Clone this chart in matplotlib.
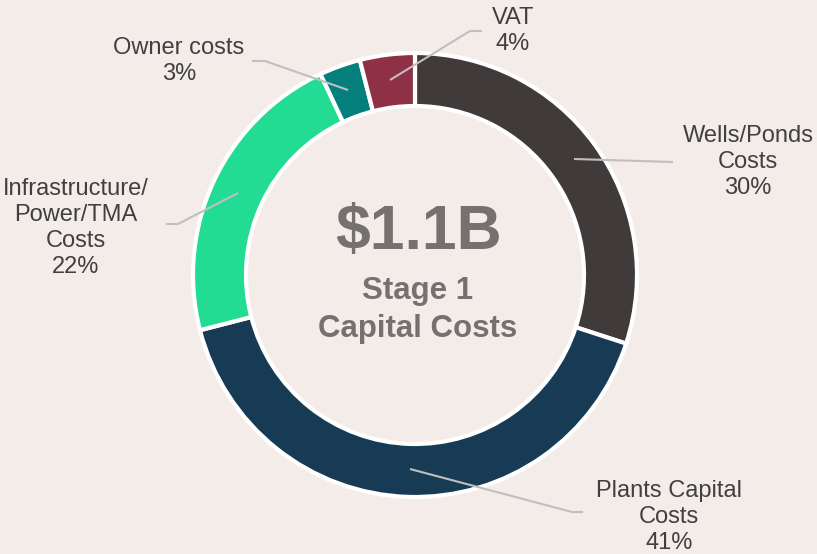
import matplotlib
matplotlib.use("Agg")
import matplotlib.pyplot as plt

categories = ["Wells/Ponds\nCosts", "Plants Capital\nCosts", "Infrastructure/\nPower/TMA\nCosts", "Owner costs", "VAT"]
values = [30, 41, 22, 3, 4]
colors = ["#403A3A", "#173A55", "#22DC94", "#057F7C", "#8E3046"]

# label positions (text center, pixel coords from top-left) and leader lines
label_pos = [(748, 162), (669, 517), (76, 228), (179, 61), (513, 31)]
leader = [
    [(574, 159), (673, 162)],
    [(410, 469), (572, 512), (583, 512)],
    [(238, 193), (178, 224), (166, 224)],
    [(348, 90), (265, 61), (252, 61)],
    [(390, 80), (470, 31), (482, 31)],
]

W, H = 817, 554
bg = "#F3ECE9"
fig = plt.figure(figsize=(W / 100, H / 100), dpi=100, facecolor=bg)
ax = fig.add_axes([0, 0, 1, 1])
ax.set_facecolor(bg)

cx, cy, R = 415, H - 275, 222
ax.pie(values, colors=colors, startangle=90, counterclock=False,
       center=(cx, cy), radius=R, frame=True,
       wedgeprops=dict(width=53, edgecolor="white", linewidth=3))
ax.set_xlim(0, W)
ax.set_ylim(0, H)
ax.set_aspect("equal")
ax.axis("off")

font = "Liberation Sans"
for cat, v, (tx, ty), pts in zip(categories, values, label_pos, leader):
    xs = [p[0] for p in pts]
    ys = [H - p[1] for p in pts]
    ax.plot(xs, ys, color="#BFBFBF", lw=1.5, solid_capstyle="butt", zorder=5)
    ax.text(tx, H - ty, f"{cat}\n{v}%", ha="center", va="center",
            fontsize=17, family=font, color="#404040", linespacing=1.25, zorder=6)

ax.text(418, H - 232, "$1.1B", ha="center", va="center", fontsize=45,
        fontweight="bold", family=font, color="#767171")
ax.text(418, H - 310, "Stage 1\nCapital Costs", ha="center", va="center",
        fontsize=22.5, fontweight="bold", family=font, color="#767171", linespacing=1.35)

fig.savefig("out.png", dpi=100, facecolor=bg)
